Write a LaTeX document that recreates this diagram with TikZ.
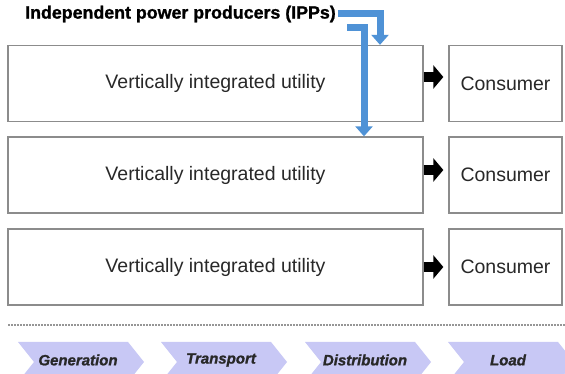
\documentclass[tikz,border=0pt]{standalone}
\usepackage{fontspec}
\setmainfont{Liberation Sans}
\newfontfamily\heavyfont{Liberation Sans}[BoldFeatures={FakeBold=1.2},BoldItalicFeatures={FakeBold=1.2}]
\usetikzlibrary{arrows.meta,calc}
\definecolor{boxgray}{RGB}{140,140,140}
\definecolor{ippblue}{RGB}{79,146,214}
\definecolor{chev}{RGB}{200,200,245}
\definecolor{txt}{RGB}{40,40,40}
\definecolor{dotgray}{RGB}{150,150,150}
\begin{document}
\begin{tikzpicture}[x=1pt,y=1pt,
  unitbox/.style={draw=boxgray, line width=1.3pt, minimum width=415pt, minimum height=76pt, inner sep=0pt, font=\fontsize{19.5}{22}\selectfont, text=txt},
  conbox/.style={draw=boxgray, line width=1.3pt, minimum width=113pt, minimum height=76pt, inner sep=0pt, font=\fontsize{19.5}{22}\selectfont, text=txt},
  blk/.style={line width=10pt, -{Triangle[length=10pt,width=23pt]}, shorten >=5pt},
  ipp/.style={draw=ippblue, line width=7pt, line join=miter, -{Triangle[length=10pt,width=17pt]}},
  chevlab/.style={font=\heavyfont\fontsize{15}{18}\selectfont\bfseries\itshape, text=txt, inner sep=0pt},
  dotline/.style={draw=dotgray, line width=1.2pt, dash pattern=on 2pt off 1pt}
]
\useasboundingbox (0,0) rectangle (565,374);
\clip (0,0) rectangle (565,374);
\fill[white] (0,0) rectangle (565,374);

% title
\node[anchor=west, inner sep=0pt, font=\heavyfont\fontsize{17.8}{20}\selectfont\bfseries] (title) at (25,360) {Independent power producers (IPPs)};

% utility boxes
\node[unitbox] (v1) at (215.5,290.5) {Vertically integrated utility};
\node[unitbox] (v2) at (215.5,199) {Vertically integrated utility};
\node[unitbox] (v3) at (215.5,107) {Vertically integrated utility};

% consumer boxes
\node[conbox] (c1) at (505.5,290.5) {Consumer};
\node[conbox] (c2) at (505.5,199) {Consumer};
\node[conbox] (c3) at (505.5,107) {Consumer};

% black arrows
\draw[blk] ([yshift=6.5pt]v1.east) -- ([yshift=6.5pt]c1.west);
\draw[blk] ([yshift=5pt]v2.east) -- ([yshift=5pt]c2.west);
\draw[blk] (v3.east) -- (c3.west);

% IPP arrows
\coordinate (ipA) at (380,360);
\coordinate (ipBs) at (347,346);
\coordinate (ipB) at (364,346);
\draw[ipp] ([xshift=2pt]title.east) -- (ipA) -- (ipA |- v1.north);
\draw[ipp] (ipBs) -- (ipB) -- (ipB |- v2.north);

% dotted separator
\coordinate (dl) at (8,49);
\coordinate (dr) at (565,49);
\draw[dotline] (dl) -- (dr);

% chevrons
\foreach \L/\t/\n in {18/Generation/g,161/Transport/t,305/Distribution/d,448/Load/l} {
  \fill[chev] (\L,32) -- ++(110,0) -- ++(16,-20) -- ++(-16,-20) -- ++(-110,0) -- ++(16,20) -- cycle;
  \node[chevlab] (ch\n) at (\L+60,14) {\t};
}
\end{tikzpicture}
\end{document}
